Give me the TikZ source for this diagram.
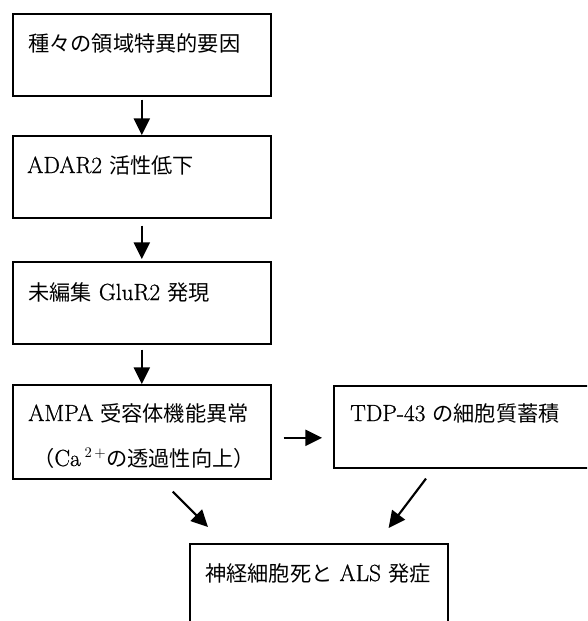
\documentclass[tikz,border=0pt]{standalone}
\usepackage{fontspec}
\setmainfont{Latin Modern Roman}[FakeBold=0.8,Scale=1.1]
\newfontfamily\cjk{Noto Sans CJK JP}
\usetikzlibrary{arrows.meta,calc}
\newcommand\J[1]{{\cjk #1}}
\begin{document}
\begin{tikzpicture}[x=0.75pt,y=-0.75pt,
  box/.style={draw, line width=1.2pt, inner sep=0pt, anchor=north west, minimum width=193.5pt},
  txt/.style={anchor=base west, inner sep=0pt, font=\fontsize{15.9}{19}\selectfont},
  arr/.style={line width=1.6pt, -{Triangle[length=12.5pt,width=12pt]}}]
\useasboundingbox[fill=white] (0,0) rectangle (587,621);
\clip (0,0) rectangle (587,621);
% boxes
\node[box, minimum height=61.5pt] (b1) at (12,13) {};
\node[box, minimum height=61.5pt] (b2) at (12,135) {};
\node[box, minimum height=61.5pt] (b3) at (12,261) {};
\node[box, minimum height=70.5pt] (b4) at (12,384) {};
\node[box, minimum height=61.5pt, minimum width=200.25pt] (b5) at (333,385) {};
\node[box, minimum height=72.75pt] (b6) at (189,543) {};
% texts
\node[txt] (t1) at (28,51) {\J{種々の領域特異的要因}};
\node[txt] (t2) at (27,173) {ADAR2 \J{活性低下}};
\node[txt] (t3) at (28,300) {\J{未編集} GluR2 \J{発現}};
\node[txt] (t4a) at (28,421) {AMPA \J{受容体機能異常}};
\node[txt] (t4b) at (33,466) {\J{（}Ca\,$^{2\,+}$\J{の透過性向上）}};
\node[txt] (t5) at (350,421) {TDP-43 \J{の細胞質蓄積}};
\node[txt] (t6) at (205,581) {\J{神経細胞死と} ALS \J{発症}};
% arrows
\draw[arr] ($(b1.south)+(0,3)$) -- (b2.north);
\draw[arr] ($(b2.south)+(0,7)$) -- ($(b3.north)+(0,-2)$);
\draw[arr] ($(b3.south)+(0,5)$) -- (b4.north);
\draw[arr] ($(b4.east)+(12,6)$) -- ($(b5.west)+(-11,11)$);
\draw[arr] ($(b4.south)+(31,12)$) -- ($(b6.north west)+(19,-16)$);
\draw[arr] ($(b5.south west)+(93,10)$) -- ($(b6.north east)+(-60,-15)$);
\end{tikzpicture}
\end{document}
